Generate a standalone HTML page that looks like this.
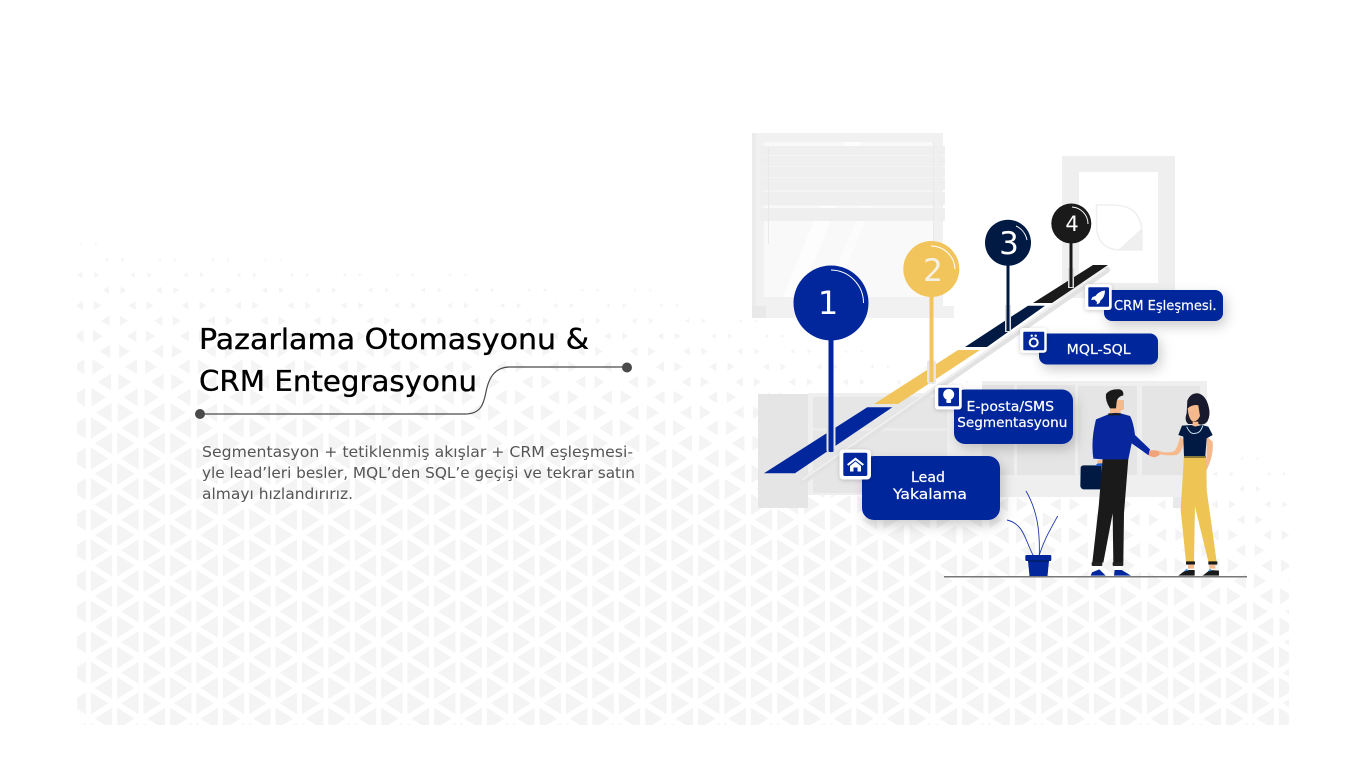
<!DOCTYPE html>
<html lang="tr"><head><meta charset="utf-8"><title>Pazarlama Otomasyonu</title>
<style>html,body{margin:0;padding:0;background:#fff;width:1366px;height:768px;overflow:hidden}svg{display:block}text{font-family:"DejaVu Sans","Liberation Sans",sans-serif}</style></head>
<body>
<svg xmlns="http://www.w3.org/2000/svg" width="1366" height="768" viewBox="0 0 1366 768">
<defs>
<clipPath id="c"><rect x="77" y="200" width="1212" height="525"/></clipPath>
<filter id="s" x="-30%" y="-30%" width="170%" height="190%"><feDropShadow dx="3" dy="5" stdDeviation="6" flood-color="#000" flood-opacity=".2"/></filter>
<filter id="s2" x="-40%" y="-40%" width="180%" height="180%"><feDropShadow dx="0" dy="1" stdDeviation="2" flood-color="#000" flood-opacity=".2"/></filter>
</defs>
<rect width="1366" height="768" fill="#fff"/>
<path id="tri" clip-path="url(#c)" fill="#f4f4f4" d=""/>
<script>
(function(){var d="",i,k;
function top(x){return x<650?242+.08*(x-77):288+.28*(x-650)}
function sc(x,y){var t=(y-top(x))/190;if(t<0)return 0;return t>=1?1:.13+.87*t}
function tri(b,y,dir){var f=b+dir*7.5,s=sc(f,y);if(!s)return;
var bx=f+dir*(-5)*s,ax=f+dir*12.5*s,h=11*s;
d+="M"+bx.toFixed(1)+" "+(y-h).toFixed(1)+"L"+ax.toFixed(1)+" "+y.toFixed(1)+"L"+bx.toFixed(1)+" "+(y+h).toFixed(1)+"Z"}
for(i=0;i<47;i++){var b=88.3+26.4*i,y0=244.3+(i%2?15.3:0);
for(k=0;k<17;k++){var y=y0+30.6*k;tri(b,y,1);tri(b,y,-1)}}
document.getElementById("tri").setAttribute("d",d)})();
</script>

<!-- window -->
<rect x="752" y="133" width="191" height="174" fill="#f1f1f1"/>
<rect x="752" y="133" width="4" height="174" fill="#ebebeb"/>
<rect x="764" y="142" width="169" height="155" fill="#f9f9f9"/>
<polygon points="783,297 846,142 862,142 800,297" fill="#fdfdfd"/>
<polygon points="825,297 866,195 875,195 835,297" fill="#fcfcfc"/>
<rect x="764" y="146" width="169" height="60" fill="#f4f4f4"/>
<g fill="#efefef"><rect x="760" y="146" width="185" height="9"/><rect x="760" y="156" width="185" height="10"/><rect x="760" y="167" width="185" height="10"/><rect x="760" y="178" width="185" height="12"/><rect x="760" y="192" width="185" height="13"/><rect x="760" y="208" width="185" height="13"/></g>
<rect x="768" y="147" width="1" height="97" fill="#e9e9e9"/>
<rect x="933" y="142" width="1" height="155" fill="#e9e9e9"/>
<rect x="752" y="306" width="202" height="12" fill="#f1f1f1"/>
<rect x="752" y="306" width="14" height="12" fill="#e9e9e9"/>

<!-- picture -->
<rect x="1062" y="156" width="113" height="142" fill="#efefef"/>
<rect x="1079" y="172" width="79" height="111" fill="#fff"/>
<path d="M1096.5 205H1116Q1141 207 1142 232V250H1118Q1097 248 1096.5 226Z" fill="#fff" stroke="#efefef" stroke-width="1.5"/>
<polygon points="1142,228 1142,250 1118,250" fill="#efefef"/>

<!-- cabinets -->
<rect x="808" y="393" width="142" height="102" fill="#efefef"/>
<rect x="813" y="397" width="134" height="96" fill="#e6e6e6"/>
<rect x="813" y="428" width="134" height="3" fill="#ececec"/>
<rect x="758" y="394" width="50" height="114" fill="#e5e5e5"/>
<rect x="950" y="393" width="257" height="104" fill="#efefef"/>
<rect x="982" y="381" width="225" height="14" fill="#efefef"/>
<g fill="#e5e5e5"><rect x="982" y="385" width="32" height="90"/><rect x="1017" y="385" width="58" height="90"/><rect x="1078" y="386" width="59" height="89"/><rect x="1142" y="386" width="58" height="89"/></g>
<rect x="1173" y="497" width="10" height="11" fill="#e9e9e9"/>

<!-- slope -->
<line x1="802" y1="482" x2="1107" y2="270" stroke="#e2e2e2" stroke-width="6" stroke-linecap="round"/>
<line x1="802" y1="480" x2="1105" y2="269" stroke="#f2f2f2" stroke-width="1.5"/>
<polygon points="764,473.3 795,473.3 892.3,407.3 867.3,407.3" fill="#02279c"/>
<polygon points="874,404 898,404 980,350 958,350" fill="#f2c55c"/>
<polygon points="965,347 987,347 1045,305.7 1028,305.7" fill="#001a43"/>
<polygon points="1033,303 1052,303 1108,265 1093,265" fill="#1a1a1a"/>

<!-- pins -->
<rect x="826.5" y="425" width="9" height="28" rx="3" fill="#e4e4e4"/>
<rect x="828.5" y="335" width="5" height="117" rx="1" fill="#02279c"/>
<circle cx="831" cy="303" r="37.5" fill="#02279c"/>
<path d="M831 270A33 33 0 0 1 863.5 303" fill="none" stroke="#fff" stroke-width="1"/>
<text x="828" y="314" font-size="32" fill="#fff" text-anchor="middle">1</text>
<rect x="927" y="360" width="9" height="24" rx="3" fill="#e6e6e6"/>
<rect x="929.5" y="295" width="4" height="87" fill="#f2c55c"/>
<circle cx="931.3" cy="269" r="28" fill="#f2c55c"/>
<path d="M931 246A24 24 0 0 1 955 269" fill="none" stroke="#fff" stroke-width="1"/>
<text x="933" y="281" font-size="31" fill="#f5f1e4" text-anchor="middle">2</text>
<rect x="1005" y="305" width="6" height="27" fill="#e2e2e2"/>
<rect x="1006.5" y="262" width="3" height="69" fill="#001a43"/>
<circle cx="1008" cy="242.7" r="23" fill="#001a43"/>
<path d="M1016 226A20 20 0 0 1 1027 240" fill="none" stroke="#fff" stroke-width="1"/>
<text x="1009" y="254" font-size="31" fill="#fff" text-anchor="middle">3</text>
<rect x="1068" y="268" width="6" height="20" fill="#dcdcdc"/>
<rect x="1069.5" y="240" width="3" height="47" fill="#1a1a1a"/>
<circle cx="1071.3" cy="223.5" r="20" fill="#1a1a1a"/>
<path d="M1072 207A17 17 0 0 1 1088 224" fill="none" stroke="#fff" stroke-width="1"/>
<text x="1072" y="231" font-size="21" fill="#fff" text-anchor="middle">4</text>

<!-- labels -->
<g fill="#02279c" filter="url(#s)">
<rect x="862" y="456" width="138" height="64" rx="12"/>
<rect x="954" y="389.5" width="119" height="54.5" rx="11"/>
<rect x="1039" y="333.5" width="119" height="31" rx="8"/>
<rect x="1104" y="290" width="119" height="31" rx="8"/>
</g>
<g fill="#fff" stroke="#fff" stroke-width=".2">
<text x="911" y="482" font-size="14.5" textLength="34" lengthAdjust="spacingAndGlyphs">Lead</text>
<text x="893" y="499" font-size="14.5" textLength="74" lengthAdjust="spacingAndGlyphs">Yakalama</text>
<text x="966.5" y="411" font-size="13.5" textLength="87.5" lengthAdjust="spacingAndGlyphs">E-posta/SMS</text>
<text x="957.3" y="427" font-size="13.5" textLength="110" lengthAdjust="spacingAndGlyphs">Segmentasyonu</text>
<text x="1066.7" y="354" font-size="13.5" textLength="64" lengthAdjust="spacingAndGlyphs">MQL-SQL</text>
<text x="1114" y="310" font-size="13.5" textLength="102.5" lengthAdjust="spacingAndGlyphs">CRM Eşleşmesi.</text>
</g>

<!-- icons -->
<g filter="url(#s2)" fill="#fff">
<rect x="839.5" y="449.5" width="31.5" height="30" rx="4"/>
<rect x="935" y="385" width="26.7" height="24.5" rx="3"/>
<rect x="1020" y="328" width="26.7" height="24.7" rx="3"/>
<rect x="1085" y="284.3" width="26.7" height="25.7" rx="3"/>
</g>
<g fill="#02279c">
<rect x="843.3" y="452.7" width="24" height="23.3" rx="1.5"/>
<rect x="938.3" y="387.7" width="20.7" height="18.5" rx="1"/>
<rect x="1023.3" y="331.7" width="21" height="18.5" rx="1"/>
<rect x="1088.3" y="287.3" width="20.7" height="19.5" rx="1"/>
</g>
<g fill="#fff">
<path d="M855.5 457.5L864 464.2 862.6 465.8 855.5 460.2 848.4 465.8 847 464.2Z"/>
<path d="M855.5 461.5L861 466V471.5H857.5V467.5H853.5V471.5H850V466Z"/>
<circle cx="948.7" cy="394.5" r="5.5"/><rect x="946.3" y="399.5" width="4.8" height="3.5" rx="1"/>
<circle cx="1033.7" cy="342.5" r="4" fill="none" stroke="#fff" stroke-width="2"/>
<circle cx="1031.7" cy="335.7" r="1.2"/><circle cx="1035.7" cy="335.7" r="1.2"/>
<path d="M1105 290.5Q1099 291 1095.5 296L1092.5 297 1091 300 1094.5 299.6 1097 302 1096.7 304.5 1099.5 303 1100.5 300.5Q1105 297 1105 290.5Z"/>
</g>

<!-- plant -->
<g fill="none" stroke="#1f3aa8" stroke-width=".9">
<path d="M1039.3 555C1040 530 1037 510 1026 491"/>
<path d="M1039.3 555C1044 540 1050 530 1057.7 516"/>
<path d="M1033 555C1025 540 1024 524 1007 520"/>
</g>
<polygon points="1028,561 1049,561 1047.5,576 1029.5,576" fill="#02279c"/>
<rect x="1025.3" y="555" width="26" height="6" rx="1" fill="#02279c"/>
<rect x="1028" y="560.5" width="21" height="1" fill="#001a43"/>
<rect x="944" y="576" width="303" height="1.5" fill="#777"/>

<!-- man -->
<g transform="translate(1060 380) scale(.3333)">
<path d="M62 262Q64 256 72 256H125V328H70Q62 326 61 318Z" fill="#001a43"/>
<path d="M105 258Q115 245 128 250V258Z" fill="#1b5cc8"/>
<path d="M128 236H205L192 400 190 548H160L158 400 130 548H97L116 380Z" fill="#1a1a1a"/>
<rect x="95" y="546" width="32" height="12" rx="3" fill="#222"/><rect x="158" y="546" width="32" height="12" rx="3" fill="#222"/>
<path d="M92 587 96 577 118 568 137 587Z" fill="#02279c"/><path d="M162 587 164 570 185 570 213 587Z" fill="#02279c"/>
<path d="M113 240H128L126 250H112Z" fill="#f6b98b"/>
<path d="M165 60H192V88L182 92V105H150V85Z" fill="#f6b98b"/>
<path d="M138 42Q150 26 180 28 192 32 190 46 172 50 170 65L168 85 150 85Q135 62 138 42Z" fill="#1a1a1a"/>
<path d="M143 104Q160 96 182 100L210 108Q220 125 225 165L270 208 266 226 215 190 205 238H128L100 236Q92 180 108 118Z" fill="#08279f"/>
<path d="M145 100H182V106H145Z" fill="#1a1a1a"/>
<path d="M268 212 Q285 208 305 216 298 230 282 232 270 228 266 226Z" fill="#f0a27a"/>
</g>
<!-- woman -->
<g transform="translate(1060 380) scale(.3333)">
<path d="M295 213Q330 222 345 212 355 195 360 170L372 180Q368 215 350 225 320 228 298 222Z" fill="#f6b98b"/>
<path d="M440 170 458 185Q462 225 440 270L430 282 418 280 422 262 440 235Z" fill="#f6b98b"/>
<path d="M382 62Q392 38 415 40 438 46 446 80 453 105 442 125 430 138 415 132H385Q372 122 380 100Z" fill="#1a1a2e"/>
<path d="M383 85Q398 72 415 76L420 108Q412 126 398 124 386 118 383 85Z" fill="#f6b98b"/>
<path d="M398 125H415V142H398Z" fill="#f6b98b"/>
<path d="M366 137 395 135 405 140 425 135 445 140 458 165 440 175 436 228H372L370 170 355 165Z" fill="#001a43"/>
<path d="M380 140Q392 165 405 160 422 160 428 137" fill="none" stroke="#cfe3ee" stroke-width="3"/>
<path d="M372 228H438L440 330 470 545H445L405 380 402 545H378L362 390Z" fill="#eec455"/>
<rect x="372" y="228" width="66" height="6" fill="#8a7a3c"/>
<rect x="378" y="544" width="27" height="10" rx="2" fill="#1a1a1a"/><rect x="445" y="544" width="27" height="10" rx="2" fill="#1a1a1a"/>
<rect x="384" y="554" width="18" height="12" fill="#f6b98b"/><rect x="448" y="554" width="18" height="12" fill="#f6b98b"/>
<path d="M355 587 378 570 404 570V587Z" fill="#1a1a1a"/><path d="M428 587 450 570 477 572V587Z" fill="#1a1a1a"/>
<path d="M372 574 380 566 386 572Z" fill="#3a90e0"/><path d="M444 574 450 566 456 572Z" fill="#3a90e0"/>
</g>

<!-- heading -->
<g fill="#000" stroke="#000" stroke-width=".35">
<text x="199" y="349" font-size="28.5" textLength="390" lengthAdjust="spacingAndGlyphs">Pazarlama Otomasyonu &amp;</text>
<text x="199" y="391" font-size="28.5" textLength="278" lengthAdjust="spacingAndGlyphs">CRM Entegrasyonu</text>
</g>
<path d="M200 414H465C482 414 484 402 486 392 489 376 496 367 510 367H627" fill="none" stroke="#4a4a4a" stroke-width="1.2"/>
<circle cx="200" cy="414" r="5" fill="#4a4a4a"/><circle cx="627" cy="367.5" r="5" fill="#4a4a4a"/>
<g fill="#555" font-size="15.5">
<text x="202" y="457" textLength="431" lengthAdjust="spacingAndGlyphs">Segmentasyon + tetiklenmiş akışlar + CRM eşleşmesi-</text>
<text x="202" y="478" textLength="433" lengthAdjust="spacingAndGlyphs">yle lead’leri besler, MQL’den SQL’e geçişi ve tekrar satın</text>
<text x="202" y="499" textLength="151" lengthAdjust="spacingAndGlyphs">almayı hızlandırırız.</text>
</g>
</svg>
</body></html>
